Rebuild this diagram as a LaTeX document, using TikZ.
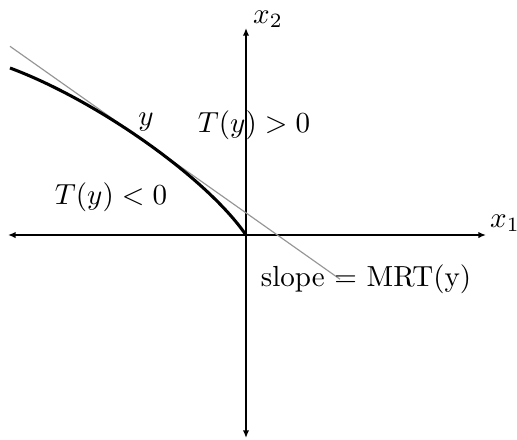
\documentclass[tikz,border=0pt]{standalone}
\usepackage{amsmath,amssymb}
\usepackage{tikz}
\usetikzlibrary{positioning,arrows.meta,calc}
\usepackage{xcolor}
\definecolor{TangentGray}{RGB}{150,150,150}

\begin{document}
\begin{tikzpicture}[
  x=0.0121cm, y=0.0121cm,
  every node/.style={inner sep=0pt},
  axis/.style={{Latex[length=2.6pt,width=2.2pt]}-{Latex[length=2.6pt,width=2.2pt]}, line width=0.8pt, black},
  frontier/.style={line width=1.05pt, black},
  tangent/.style={line width=0.4pt, TangentGray}
]
\useasboundingbox (-246,-204) rectangle (271,235);

% Axes
\coordinate (o) at (0,0);
\coordinate (xl) at (-238,0);
\coordinate (xr) at (240,0);
\coordinate (yb) at (0,-203);
\coordinate (yt) at (0,207);
\draw[axis] (xl) -- (xr);
\draw[axis] (yb) -- (yt);
\node (lx1) at (259,12) {$x_1$};
\node (lx2) at (22,216) {$x_2$};

% Tangent line
\coordinate (ts) at (-236,188.7);
\coordinate (te) at (94,-44.2);
\draw[tangent] (ts) -- (te);

% Frontier
\coordinate (fs) at (-236,167);
\draw[frontier] (fs) .. controls (-150,135) and (-40,58) .. (o);

% Labels
\node (ly) at (-100,113) {$y$};
\node (lpos) at (8,110) {$T(y) > 0$};
\node (lneg) at (-135,38) {$T(y) < 0$};
\node (lslope) at (120,-44) {slope $=$ MRT(y)};
\end{tikzpicture}
\end{document}
